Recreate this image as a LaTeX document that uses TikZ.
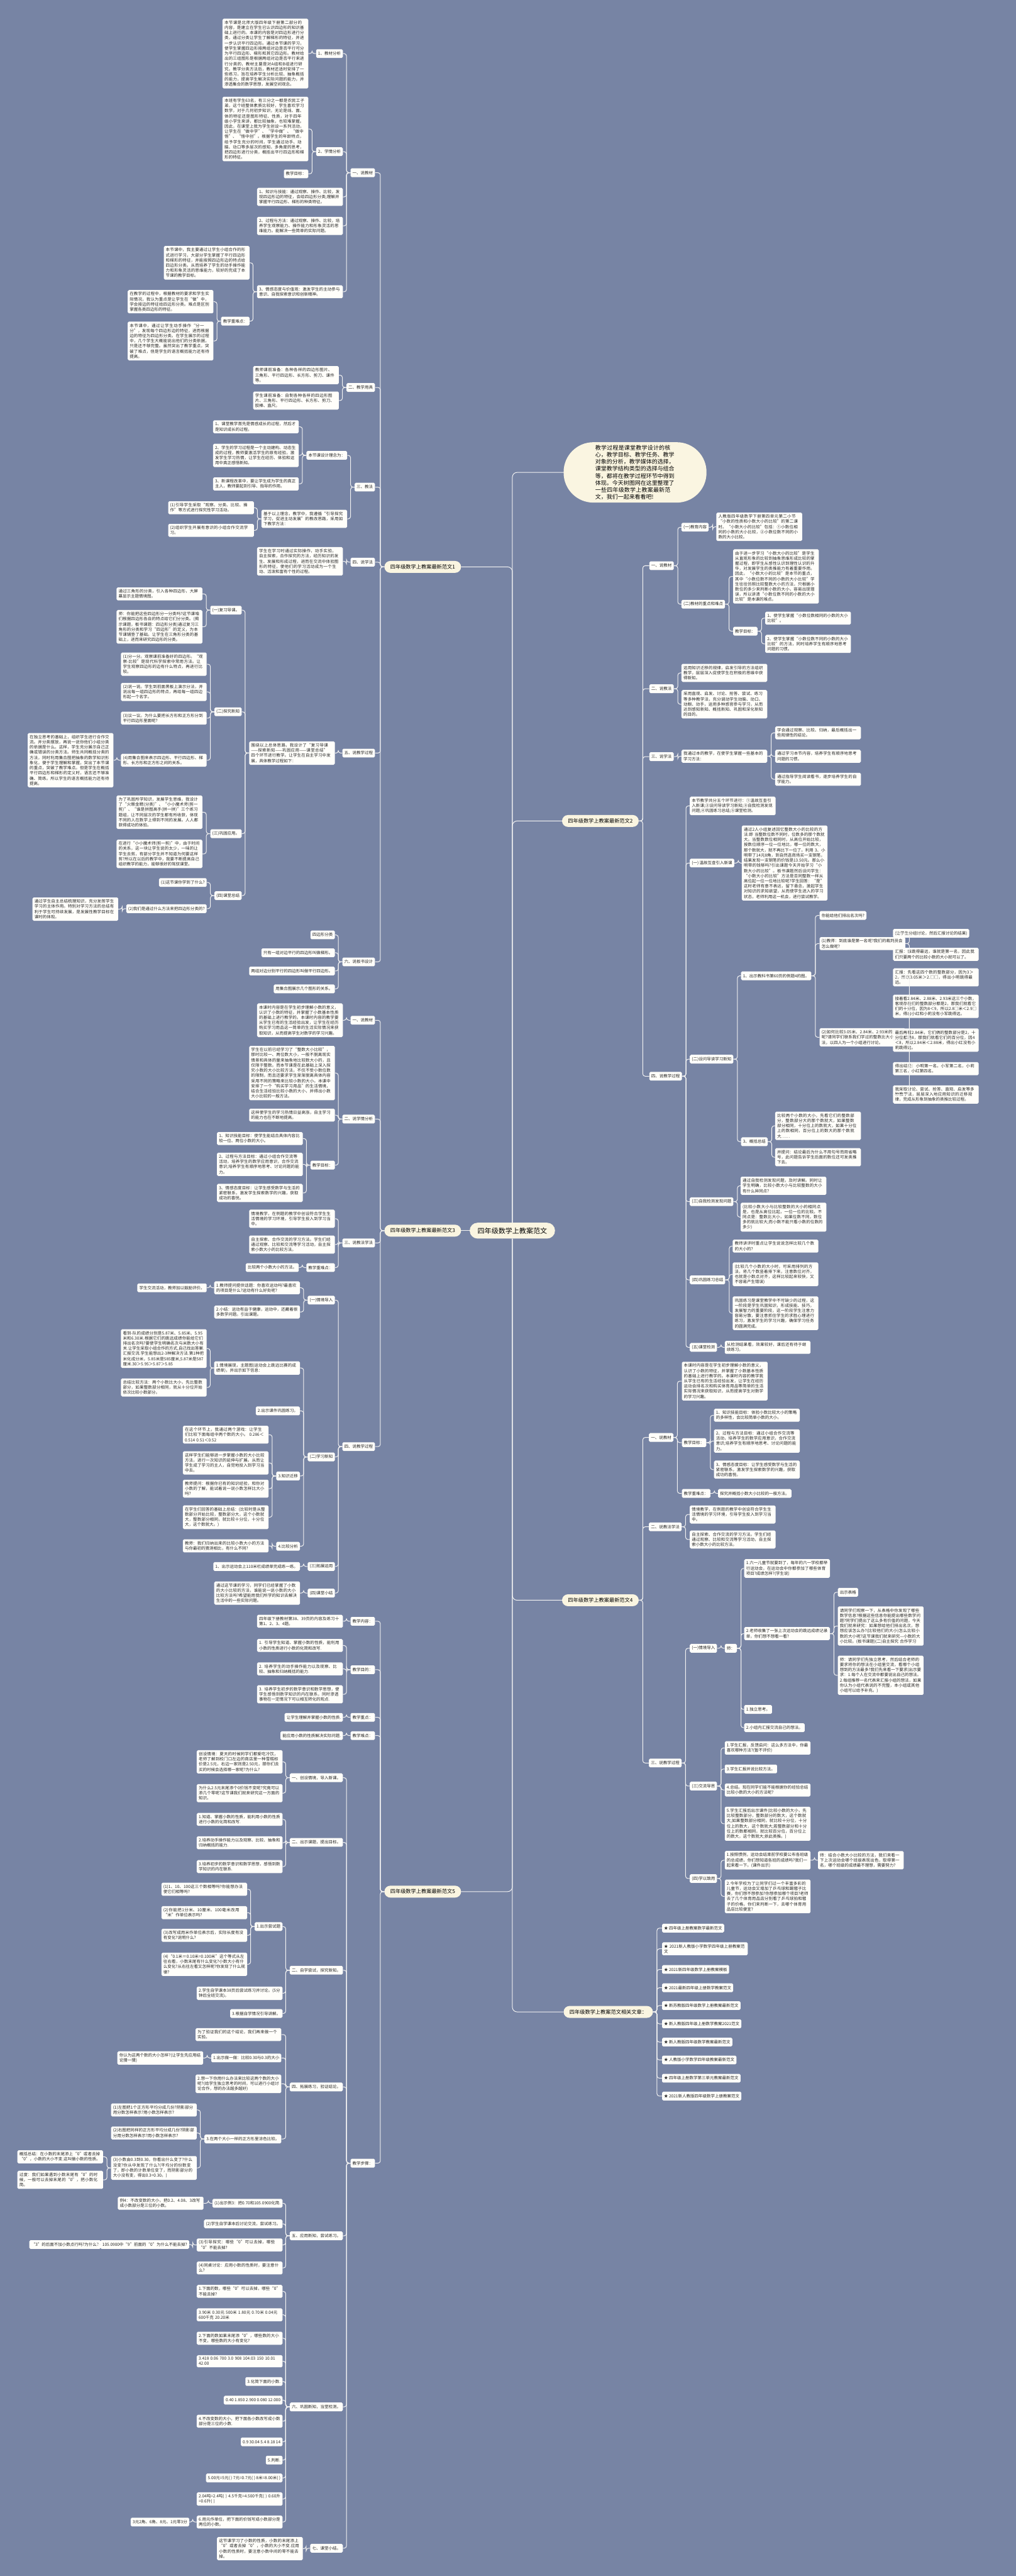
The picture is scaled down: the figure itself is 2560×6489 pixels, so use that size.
\documentclass[tikz,border=0pt]{standalone}
\usepackage{fontspec}
\setmainfont{Noto Sans CJK SC}
\XeTeXlinebreaklocale "zh"
\XeTeXlinebreakskip=0pt plus 1pt
\definecolor{mapbg}{RGB}{119,132,164}
\definecolor{leaffill}{RGB}{255,254,250}
\definecolor{topfill}{RGB}{250,245,225}
\definecolor{linkwhite}{RGB}{242,242,242}

\begin{document}
\begin{tikzpicture}[x=1pt, y=-1pt,
  lbox/.style={fill=leaffill, rounded corners=3pt, inner xsep=5pt, inner ysep=5pt, minimum height=22pt, font=\fontsize{10.3}{13}\selectfont, text=black!85},
  tbox/.style={lbox, text width=206pt, align=left},
  branch/.style={fill=topfill, rounded corners=15pt, minimum height=30pt, inner xsep=15pt, font=\fontsize{13}{15}\selectfont},
  rootnode/.style={fill=topfill, rounded corners=20pt, minimum height=40pt, inner xsep=20pt, font=\fontsize{17.5}{20}\selectfont},
  intro/.style={fill=topfill, rounded corners=75pt, text width=200pt, inner xsep=80pt, inner ysep=8pt, align=left, font=\fontsize{14.2}{17.5}\selectfont},
  link/.style={draw=linkwhite, line width=1.6pt, rounded corners=6pt}]

  \fill[mapbg] (0,0) rectangle (2560,6489);
  \useasboundingbox (0,0) rectangle (2560,6489);

  % --- root, intro and main branches ---
  \node[rootnode] (root) at (1291,3100) {四年级数学上教案范文};
  \node[intro, anchor=west] (intro) at (1420,1190) {教学过程是课堂教学设计的核心，教学目标、教学任务、教学对象的分析，教学媒体的选择，课堂教学结构类型的选择与组合等，都将在教学过程环节中得到体现。今天树图网在这里整理了一些四年级数学上教案最新范文，我们一起来看看吧!};
  \node[branch, anchor=east] (b1) at (1162,1428) {四年级数学上教案最新范文1};
  \node[branch, anchor=west] (b2) at (1416,2068) {四年级数学上教案最新范文2};
  \node[branch, anchor=east] (b3) at (1162,3100) {四年级数学上教案最新范文3};
  \node[branch, anchor=west] (b4) at (1416,4031) {四年级数学上教案最新范文4};
  \node[branch, anchor=east] (b5) at (1162,4765) {四年级数学上教案最新范文5};
  \node[branch, anchor=west] (b6) at (1420,5068) {四年级数学上教案范文相关文章：};

  % --- branch 1 (left, top) ---
  \node[lbox, anchor=east] (a1) at (945,435) {一、说教材};
  \node[lbox, anchor=east] (a2) at (945,976) {二、教学用具};
  \node[lbox, anchor=east] (a3) at (945,1227) {三、教法};
  \node[lbox, anchor=east] (a4) at (945,1416) {四、说学法};
  \node[lbox, anchor=east] (a5) at (945,1897) {五、说教学过程};
  \node[lbox, anchor=east] (a6) at (945,2423) {六、说板书设计};

  \node[lbox, anchor=east] (a11) at (864,135) {1、教材分析};
  \node[lbox, anchor=east] (a12) at (864,382) {2、学情分析};
  \node[tbox, anchor=east] (a13) at (864,496) {1、知识与技能：通过观察、操作、比较，发现四边形边的特征，会给四边形分类;理解并掌握平行四边形、梯形的种类特征。};
  \node[tbox, anchor=east] (a14) at (864,569) {2、过程与方法：通过观察、操作、比较，培养学生观察能力、操作能力和形象灵活的思维能力。能解决一些简单的实际问题。};
  \node[tbox, anchor=east] (a15) at (864,735) {3、情感态度与价值观：激发学生的主动参与意识、自我探索意识和创新精神。};
  \node[tbox, anchor=east] (a111) at (777,135) {本节课是北师大版四年级下册第二部分的内容，是建立在学生已认识四边形的知识基础上进行的。本课的内容是对四边形进行分类，通过分类让学生了解梯形的特征，并进一步认识平行四边形。通过本节课的学习，使学生掌握四边形按两组对边是否平行可分为平行四边形、梯形和其它四边形。教材给出的三组图形是根据两组对边是否平行来进行分类的，教材主要是对A组和B组进行研究。教学分类方法后，教材还适时安排了一些练习，旨在培养学生分析比较、抽象概括的能力，提高学生解决实际问题的能力，并渗透集合的数学思想，发展空间观念。};
  \node[tbox, anchor=east] (a121) at (777,325) {本班有学生63名，有三分之一都是农民工子弟，这个班整体素质比较好，学生喜欢学习数学，对于几何初步知识，无论是线、面、体的特征还是图形特征、性质，对于四年级小学生来讲，都比较抽象，也较难掌握。因此，在课堂上我为学生创设一系列活动，让学生在“做中学”、“学中做”、“做中悟”、“悟中创”。根据学生的年龄特点，给予学生充分的时间，学生通过动手、动脑、动口等多层次的感知，多角度的思考，把四边形进行分类，概括出平行四边形和梯形的特征。};
  \node[lbox, anchor=east] (a122) at (777,438) {教学目标：};
  \node[tbox, anchor=east] (a151) at (629,662) {本节课中，我主要通过让学生小组合作的形式进行学习，大部分学生掌握了平行四边形和梯形的特征，并能按照四边形边的特点给四边形分类。从而培养了学生的动手操作能力和形象灵活的思维能力，较好的完成了本节课的教学目标。};
  \node[lbox, anchor=east] (a152) at (629,809) {教学重难点：};
  \node[tbox, anchor=east] (a1521) at (538,760) {在教学的过程中，根据教材的要求和学生实际情况，我认为重点是让学生在“做”中，学会按边的特征给四边形分类。难点是区别掌握各类四边形的特征。};
  \node[tbox, anchor=east] (a1522) at (538,859) {本节课中，通过让学生动手操作“分一分”，发现每个四边形边的特征，进而根据边的特征为四边形分类。在学生展示的过程中，几个学生大概能说出他们的分类依据，只是还不够完整。虽然突出了教学重点，突破了难点，但是学生的语言概括能力还有待提高。};

  \node[tbox, anchor=east] (a21) at (854,945) {教师课前准备：各种各样的四边形图片、三角形、平行四边形、长方形、剪刀、课件等。};
  \node[tbox, anchor=east] (a22) at (854,1009) {学生课前准备：自制各种各样的四边形图片、三角形、平行四边形、长方形、剪刀、胶棒、直尺。};

  \node[lbox, anchor=east] (a31) at (875,1147) {本节课设计理念为：};
  \node[tbox, anchor=east] (a32) at (875,1307) {基于以上理念，教学中，我遵循“引导探究学习，促进主动发展”的教改思路，采用如下教学方法：};
  \node[tbox, anchor=east] (a311) at (753,1075) {1、课堂教学首先是情感成长的过程，然后才是知识成长的过程。};
  \node[tbox, anchor=east] (a312) at (753,1147) {2、学生的学习过程是一个主动建构、动态生成的过程，教师要激活学生的原有经验，激发学生学习热情，让学生在经历、体验和运用中真正感悟新知。};
  \node[tbox, anchor=east] (a313) at (753,1219) {3、新课程改革中，要让学生成为学生的真正主人，教师要起到引导、指导的作用。};
  \node[tbox, anchor=east] (a321) at (640,1279) {(1)引导学生采取“观察、分类、比较、操作”等方式进行探究性学习活动。};
  \node[tbox, anchor=east] (a322) at (640,1336) {(2)组织学生开展有意识的小组合作交流学习。};

  \node[tbox, anchor=east] (a41) at (864,1414) {学生在学习时通过实际操作，动手实验，自主探索，合作探究的方法，经历知识的发生、发展和形成过程，进而在交流中体验图形的特征，使他们的学习活动成为一个生动、活泼和富有个性的过程。};

  \node[tbox, anchor=east] (a51) at (844,1897) {围绕以上总体思路，我设计了“复习导课——探索新知——巩固应用——课堂总结”四个环节进行教学。让学生在自主学习中发展，具体教学过程如下：};
  \node[lbox, anchor=east] (a511) at (609,1537) {(一)复习导课。};
  \node[lbox, anchor=east] (a512) at (609,1793) {(二)探究新知};
  \node[lbox, anchor=east] (a513) at (609,2100) {(三)巩固应用。};
  \node[lbox, anchor=east] (a514) at (609,2256) {(四)课堂总结};
  \node[tbox, anchor=east] (a5111) at (510,1496) {通过三角形的分类，引入各种四边形，大屏幕显示主题情境图。};
  \node[tbox, anchor=east] (a5112) at (510,1579) {师：你能把这些四边形分一分类吗?这节课咱们根据四边形各自的特点给它们分分类。(揭示课题，板书课题：四边形分类)通过复习三角形的分类和学习“四边形”的定义，为本节课铺垫了基础。让学生在三角形分类的基础上，进而来研究四边形的分类。};
  \node[tbox, anchor=east] (a5121) at (521,1673) {(1)分一分。观察课前准备好的四边形。“观察-比较”是现代科学探索中常用方法。让学生观察四边形的边有什么特点，再进行比较。};
  \node[tbox, anchor=east] (a5122) at (521,1743) {(2)说一说。学生到前面黑板上演示分法，并说出每一组四边形的特点，再给每一组四边形起一个名字。};
  \node[tbox, anchor=east] (a5123) at (521,1809) {(3)议一议。为什么要把长方形和正方形分到平行四边形里面呢?};
  \node[tbox, anchor=east] (a5124) at (521,1915) {(4)用集合图来表示四边形、平行四边形、梯形、长方形和正方形之间的关系。};
  \node[tbox, anchor=east] (a51241) at (286,1915) {在独立思考的基础上，组织学生进行合作交流。并分类摆放，再说一说你他们小组分类的依据是什么。这样，学生充分展示自己正确或错误的分类方法。师生共同概括分类的方法，同时利用集合图把抽象的数学知识形象化，便于学生理解和掌握，突出了本节课的重点，突破了教学难点。但是学生在概括平行四边形和梯形的定义时，语言还不够准确、简练。所以学生的语言概括能力还有待提高。};
  \node[tbox, anchor=east] (a5131) at (510,2046) {为了巩固所学知识，发展学生思维，我设计了“火眼金睛(分类)”、“小小魔术师(剪一剪)”、“谁是拼图高手(拼一拼)”三个练习题组，让不同层次的学生都有所收获，体现不同的人在数学上得到不同的发展。人人都获得成功的体验。};
  \node[tbox, anchor=east] (a5132) at (510,2151) {在进行“小小魔术师(剪一剪)”中，由于时间的关系，这一块让学生说的太少，一味的让学生去剪，有部分学生并不知道为何要这样剪?所以在以后的教学中，我要不断提高自己组织教学的能力，能够很好的驾驭课堂。};
  \node[lbox, anchor=east] (a5141) at (521,2223) {(1)这节课你学到了什么?};
  \node[lbox, anchor=east] (a5142) at (521,2289) {(2)我们是通过什么方法来把四边形分类的?};
  \node[tbox, anchor=east] (a51421) at (298,2290) {通过学生自主总结梳理知识，充分发挥学生学习的主体作用。特别对学习方法的总结有利于学生可持续发展，是发展性教学目标在课时的体现。};

  \node[lbox, anchor=east] (a61) at (844,2355) {四边形分类};
  \node[lbox, anchor=east] (a62) at (844,2400) {只有一组对边平行的四边形叫做梯形。};
  \node[lbox, anchor=east] (a63) at (844,2446) {两组对边分别平行的四边形叫做平行四边形。};
  \node[lbox, anchor=east] (a64) at (844,2491) {用集合图展示几个图形的关系。};

  % --- branch 3 (left, middle) ---
  \node[lbox, anchor=east] (c1) at (945,2570) {一、说教材};
  \node[lbox, anchor=east] (c2) at (945,2819) {二、说学情分析};
  \node[lbox, anchor=east] (c3) at (945,3131) {三、说教法学法};
  \node[lbox, anchor=east] (c4) at (945,3644) {四、说教学过程};

  \node[tbox, anchor=east] (c11) at (864,2570) {本课时内容是在学生初步理解小数的意义，认识了小数的特征，并掌握了小数基本性质的基础上进行教学的。本课时内容的教学要从学生已有的生活经验出发，让学生在经历购买学习用品这一简单的生活实际情况来获取知识，从而提高学生对数学的学习兴趣。};
  \node[tbox, anchor=east] (c21) at (844,2703) {学生在以前已经学习了“整数大小比较”，那时比较一、两位数大小，一般不脱离现实情景和具体的量来抽象地比较数大小的，且仅限于整数。而本节课是在此基础上深入探究小数的大小比较方法，不仅不受小数位数的限制，而且还要求学生渐渐脱离具体内容采用不同的策略来比较小数的大小。本课中安排了一个“购买学习用品”的生活情境，结合生活经验比较小数的大小，并得出小数大小比较的一般方法。};
  \node[tbox, anchor=east] (c22) at (844,2809) {这样使学生的学习热情日益高涨，自主学习的能力也在不断地提高。};
  \node[lbox, anchor=east] (c23) at (844,2935) {教学目标：};
  \node[tbox, anchor=east] (c231) at (763,2868) {1、知识技能目标：使学生能结合具体内容比较一位、两位小数的大小。};
  \node[tbox, anchor=east] (c232) at (763,2933) {2、过程与方法目标：通过小组合作交流等活动，培养学生的数学应用意识，合作交流意识;培养学生有顺序地思考、讨论问题的能力。};
  \node[tbox, anchor=east] (c233) at (763,3005) {3、情感态度目标：让学生感受数学与生活的紧密联系，激发学生探索数学的兴趣，获取成功的喜悦。};
  \node[tbox, anchor=east] (c31) at (844,3070) {情境教学，在例题的教学中创设符合学生生活情境的学习环境，引导学生投入到学习当中。};
  \node[tbox, anchor=east] (c32) at (844,3135) {自主探索、合作交流的学习方法。学生们经通过观察、比较和交流等学习活动，自主探索小数大小的比较方法。};
  \node[lbox, anchor=east] (c33) at (844,3193) {教学重难点：};
  \node[lbox, anchor=east] (c331) at (753,3193) {比较两个小数大小的方法。};

  \node[lbox, anchor=east] (c41) at (844,3275) {(一)情境导入};
  \node[lbox, anchor=east] (c42) at (844,3670) {(二)学习新知};
  \node[lbox, anchor=east] (c43) at (844,3946) {(三)拓展运用};
  \node[lbox, anchor=east] (c44) at (844,4013) {(四)课堂小结};
  \node[tbox, anchor=east] (c411) at (756,3244) {1.教师提问提供话题：你喜欢运动吗?最喜欢的项目是什么?运动有什么好处呢?};
  \node[lbox, anchor=east] (c4111) at (521,3244) {学生交流活动，教师加以鼓励评价。};
  \node[tbox, anchor=east] (c412) at (756,3305) {2.小结：运动有益于健康，运动中，还藏着很多数学问题。引出课题。};
  \node[tbox, anchor=east] (c421) at (756,3446) {1.情境展现，主题图(运动会上跳远比赛的成绩单)，并出示如下信息：};
  \node[tbox, anchor=east] (c4211) at (521,3397) {看到-队的成绩分别是5.87米、5.85米、5.95米和6.30米.根据它们的跳远成绩你能给它们排出名次吗?要使学生明确名次与米数大小有关.让学生采取小组合作的方式,自己找出答案.汇报交流.学生能想出2-3种解决方法.第1种把米化成分米，5.85米是585厘米,5.87米是587厘米.30＞5.95＞5.87＞5.85};
  \node[tbox, anchor=east] (c4212) at (521,3495) {总结比较方法：两个小数比大小，先比整数部分，如果整数部分相同，就从十分位开始依次比较小数部分。};
  \node[lbox, anchor=east] (c422) at (756,3554) {2.出示课件巩固练习。};
  \node[lbox, anchor=east] (c423) at (756,3718) {3.知识迁移};
  \node[lbox, anchor=east] (c424) at (756,3895) {4.比较分析};
  \node[tbox, anchor=east] (c4231) at (677,3614) {在这个环节上，我通过两个游戏：让学生们比较下面每组中两个数的大小。 0.286＜0.514 0.51＜0.52};
  \node[tbox, anchor=east] (c4232) at (677,3685) {这样学生们能够进一步掌握小数的大小比较方法，进行一次知识的延伸与扩展。从而让学生成了学习的主人，自觉地投入到学习当中去。};
  \node[tbox, anchor=east] (c4233) at (677,3750) {教师提问：根据你已有的知识经验，和你对小数的了解，能试着说一说小数怎样比大小吗?};
  \node[tbox, anchor=east] (c4234) at (677,3822) {在学生们回答的基础上总结：(比较时是从整数部分开始比较，整数部分大，这个小数就大，整数部分相同，就比较十分位，十分位大，这个数就大。)};
  \node[tbox, anchor=east] (c4241) at (677,3894) {教师：我们归纳出来的比较小数大小的方法与你最初的猜测相比，有什么不同?};
  \node[lbox, anchor=east] (c431) at (756,3946) {1、出示运动会上110米栏成绩单完成练一练。};
  \node[tbox, anchor=east] (c441) at (756,4013) {通过这节课的学习，同学们已经掌握了小数的大小比较的方法，谁能说一说小数的大小比较方法吗?希望能用我们所学的知识去解决生活中的一些实际问题。};

  % --- branch 5 (left, bottom) ---
  \node[lbox, anchor=east] (e1) at (945,4084) {教学内容：};
  \node[lbox, anchor=east] (e2) at (945,4206) {教学目的：};
  \node[lbox, anchor=east] (e3) at (945,4326) {教学重点：};
  \node[lbox, anchor=east] (e4) at (945,4372) {教学难点：};
  \node[lbox, anchor=east] (e5) at (945,5449) {教学步骤：};

  \node[tbox, anchor=east] (e11) at (864,4084) {四年级下册教材第38、39页的内容及练习十第1、2、3、4题。};
  \node[tbox, anchor=east] (e21) at (864,4145) {1. 引导学生知道、掌握小数的性质，能利用小数的性质进行小数的化简和改写.};
  \node[tbox, anchor=east] (e22) at (864,4204) {2. 培养学生的动手操作能力以及观察、比较、抽象和归纳概括的能力.};
  \node[tbox, anchor=east] (e23) at (864,4268) {3. 培养学生初步的数学意识和数学思想，使学生感悟到数学知识的内在联系，同时渗透事物在一定情况下可以相互转化的观点.};
  \node[lbox, anchor=east] (e31) at (864,4326) {让学生理解并掌握小数的性质.};
  \node[lbox, anchor=east] (e41) at (864,4372) {能应用小数的性质解决实际问题.};

  \node[lbox, anchor=east] (e51) at (864,4478) {一、创设情境，导入新课。};
  \node[lbox, anchor=east] (e52) at (864,4641) {二、出示课题，提出目标。};
  \node[lbox, anchor=east] (e53) at (864,4963) {二、自学尝试，探究新知。};
  \node[lbox, anchor=east] (e54) at (864,5257) {四、拓展练习，验证结论。};
  \node[lbox, anchor=east] (e55) at (864,5632) {五、应用新知，尝试练习。};
  \node[lbox, anchor=east] (e56) at (864,6063) {六、巩固新知，当堂检测。};
  \node[lbox, anchor=east] (e57) at (864,6419) {七、课堂小结。};

  \node[tbox, anchor=east] (e511) at (712,4438) {创设情境：夏天的时候同学们都爱吃冷饮，老师了解到校门口左边的商店里一种雪糕标价是2.5元，右边一家则是2.50元，那你们去买的时候会选择哪一家呢?为什么?};
  \node[tbox, anchor=east] (e512) at (712,4517) {为什么2.5元末尾添个0价钱不变呢?究竟可以添几个零呢?这节课我们就来研究这一方面的知识。};
  \node[tbox, anchor=east] (e521) at (712,4583) {1.知道、掌握小数的性质，能利用小数的性质进行小数的化简和改写.};
  \node[tbox, anchor=east] (e522) at (712,4642) {2.培养动手操作能力以及观察、比较、抽象和归纳概括的能力.};
  \node[tbox, anchor=east] (e523) at (712,4702) {3.培养初步的数学意识和数学思想，感悟到数学知识的内在联系.};

  \node[lbox, anchor=east] (e531) at (712,4853) {1.出示尝试题};
  \node[tbox, anchor=east] (e532) at (712,5021) {2.学生自学课本38页后尝试练习并讨论。(5分钟后全班交流)。};
  \node[lbox, anchor=east] (e533) at (712,5072) {3.根据自学情况引导讲解。};
  \node[tbox, anchor=east] (e5311) at (623,4759) {(1)1、10、100这三个数相等吗?你能想办法使它们相等吗?};
  \node[tbox, anchor=east] (e5312) at (623,4818) {(2)你能把1分米、10厘米、100毫米改用“米”作单位表示吗?};
  \node[tbox, anchor=east] (e5313) at (623,4875) {(3)改写成用米作单位表示后，实际长度有没有变化?说明什么?};
  \node[tbox, anchor=east] (e5314) at (623,4948) {(4)“0.1米＝0.10米=0.100米”这个等式从左往右看，小数末尾有什么变化?小数大小有什么变化?从右往左看又怎样呢?你发现了什么规律?};

  \node[tbox, anchor=east] (e541) at (709,5125) {为了验证我们的这个结论，我们再来做一个实验。};
  \node[lbox, anchor=east] (e542) at (709,5184) {1.出示做一做：比较0.30与0.3的大小};
  \node[tbox, anchor=east] (e543) at (709,5249) {2.想一下你用什么办法来比较这两个数的大小呢?(给学生独立思考的时间，可以进行小组讨论合作，想的办法越多越好)};
  \node[lbox, anchor=east] (e544) at (709,5388) {3.在两个大小一样的正方形里涂色比较。};
  \node[tbox, anchor=east] (e5421) at (512,5184) {你认为这两个数的大小怎样?(让学生先应用结论猜一猜)};
  \node[tbox, anchor=east] (e5441) at (496,5315) {(1)左图把1个正方形平均分成几份?阴影部分用分数怎样表示?用小数怎样表示?};
  \node[tbox, anchor=east] (e5442) at (496,5373) {(2)右图把同样的正方形平均分成几份?阴影部分用分数怎样表示?用小数怎样表示?};
  \node[tbox, anchor=east] (e5443) at (496,5461) {(3)小数由0.3到0.30，你看出什么变了?什么没变?你从中发现了什么?(平均分的份数变了，即小数的计数单位变了，而阴影部分的大小没有变，得出0.3=0.30。)};
  \node[tbox, anchor=east] (e54431) at (260,5433) {概括总结：在小数的末尾添上“0”或者去掉“0”，小数的大小不变.这叫做小数的性质。};
  \node[tbox, anchor=east] (e54432) at (260,5491) {过度：我们如果遇到小数末尾有“0”的时候，一般可以去掉末尾的“0”，把小数化简。};

  \node[lbox, anchor=east] (e551) at (712,5550) {(1)出示例3：把0.70和105.0900化简.};
  \node[lbox, anchor=east] (e552) at (712,5602) {(2)学生自学课本后讨论交流，尝试练习。};
  \node[tbox, anchor=east] (e553) at (712,5655) {(3)引导探究：哪些“0”可以去掉，哪些“0”不能去掉?};
  \node[tbox, anchor=east] (e554) at (712,5713) {(4)同桌讨论：应用小数的性质时，要注意什么?};
  \node[tbox, anchor=east] (e5511) at (513,5550) {例4：不改变数的大小，把0.2、4.08、3改写成小数部分是三位的小数。};
  \node[lbox, anchor=east] (e5531) at (477,5654) {105.0900中“9”前面的“0”为什么不能去掉?};
  \node[lbox, anchor=east] (e55311) at (254,5654) {“3”的后面不加小数点行吗?为什么?};

  \node[tbox, anchor=east] (e56a) at (712,5772) {1.下面的数，哪些“0”可以去掉，哪些“0”不能去掉?};
  \node[tbox, anchor=east] (e56b) at (712,5831) {3.90米 0.30元 500米 1.80元 0.70米 0.04元 600千克 20.20米};
  \node[tbox, anchor=east] (e56c) at (712,5890) {2.下面的数如果末尾添“0”，哪些数的大小不变，哪些数的大小有变化?};
  \node[tbox, anchor=east] (e56d) at (712,5948) {3.418 0.06 700 3.0 908 104.03 150 10.01 42.00};
  \node[lbox, anchor=east] (e56e) at (712,5999) {3.化简下面的小数.};
  \node[lbox, anchor=east] (e56f) at (712,6046) {0.40 1.850 2.900 0.080 12.000};
  \node[tbox, anchor=east] (e56g) at (712,6099) {4.不改变数的大小，把下面各小数改写成小数部分是三位的小数.};
  \node[lbox, anchor=east] (e56h) at (712,6151) {0.9 30.04 5.4 8.18 14};
  \node[lbox, anchor=east] (e56i) at (712,6197) {5.判断.};
  \node[lbox, anchor=east] (e56j) at (712,6242) {5.00元=5元( ) 7元=0.7元( ) 8米=8.00米( )};
  \node[tbox, anchor=east] (e56k) at (712,6295) {2.04吨=2.4吨( ) 4.5千克=4.500千克( ) 0.60升=0.6升( )};
  \node[tbox, anchor=east] (e56l) at (712,6353) {6.用元作单位，把下面的价钱写成小数部分是两位的小数。};
  \node[lbox, anchor=east] (e56m) at (477,6353) {3元2角、6角、8元、1元零3分};
  \node[tbox, anchor=east] (e571) at (763,6420) {这节课学习了小数的性质，小数的末尾添上“0”或者去掉“0”，小数的大小不变.应用小数的性质时，要注意小数中间的零不能去掉。};

  % --- branch 2 (right, top) ---
  \node[lbox, anchor=west] (d1) at (1636,1425) {一、说教材};
  \node[lbox, anchor=west] (d2) at (1636,1735) {二、说教法};
  \node[lbox, anchor=west] (d3) at (1636,1906) {三、说学法};
  \node[lbox, anchor=west] (d4) at (1636,2711) {四、说教学过程};

  \node[lbox, anchor=west] (d11) at (1717,1328) {(一)教育内容};
  \node[lbox, anchor=west] (d12) at (1717,1522) {(二)教材的重点和难点};
  \node[tbox, anchor=west] (d111) at (1805,1327) {人教版四年级数学下册第四单元第二小节“小数的性质和小数大小的比较”的第二课时。“小数大小的比较”包括：①小数位相同的小数的大小比较，②小数位数不同的小数的大小比较。};
  \node[tbox, anchor=west] (d121) at (1847,1452) {由于进一步学习“小数大小的比较”是学生从直观形象的比较到抽象思维形成比较的掌握过程，即学生从感性认识到理性认识的升华，对发展学生的类推能力有着重要作用。因此，“小数大小的比较”是本节的重点，其中“小数位数不同的小数的大小比较”学生往往仿照比较整数大小的方法，只根据小数位的多少来判断小数的大小，容易出现错误，所以讲清“小数位数不同的小数的大小比较”是本课的难点。};
  \node[lbox, anchor=west] (d122) at (1847,1590) {教学目标：};
  \node[tbox, anchor=west] (d1221) at (1928,1557) {1、使学生掌握“小数位数相同的小数的大小比较”。};
  \node[tbox, anchor=west] (d1222) at (1928,1622) {2、使学生掌握“小数位数不同的小数的大小比较”的方法，同时培养学生有顺序地思考问题的习惯。};
  \node[tbox, anchor=west] (d21) at (1717,1695) {运用知识迁移的规律，启发引导的方法组织教学，层层深入促使学生在积极的思维中获得新知。};
  \node[tbox, anchor=west] (d22) at (1717,1774) {采用直观、启发、讨论、抢答、尝试、练习等多种教学法，充分调动学生动脑、动口、动眼、动手，运用多种感官参与学习，从而达到感知新知、概括新知、巩固和深化新知的目的。};
  \node[tbox, anchor=west] (d31) at (1717,1905) {我通过本的教学，在使学生掌握一些基本的学习方法：};
  \node[tbox, anchor=west] (d311) at (1953,1846) {学会通过观察、比较、归纳，最后概括出一些规律性的结论。};
  \node[tbox, anchor=west] (d312) at (1953,1905) {通过学习本节内容，培养学生有顺序地思考问题的习惯。};
  \node[tbox, anchor=west] (d313) at (1953,1963) {通过指导学生阅读看书，逐步培养学生的自学能力。};

  \node[tbox, anchor=west] (d41) at (1738,2030) {本节教学共分五个环节进行：①温故互查引入新课;②设问导读学习新知;③自我检测发现问题;④巩固练习总结;⑤课堂检测。};
  \node[lbox, anchor=west] (d42) at (1738,2174) {(一) 温故互查引入新课};
  \node[lbox, anchor=west] (d43) at (1738,2668) {(二)设问导读学习新知};
  \node[lbox, anchor=west] (d44) at (1738,3027) {(三)自我检测发现问题};
  \node[lbox, anchor=west] (d45) at (1738,3224) {(四)巩固练习总结};
  \node[lbox, anchor=west] (d46) at (1738,3394) {(五)课堂检测};
  \node[tbox, anchor=west] (d421) at (1869,2174) {通过2人小组复述回忆整数大小的比较的方法:即 当整数位数不同时，位数多的那个数就大。当整数数位相同时，从高位开始比较，按数位顺序一位一位地比，哪一位的数大，那个数就大，就不再比下一位了。利用 3、小明带了14元8角，到自然选商场买一支钢笔，结果发现一支钢笔的价钱是13.50元。那么小明带的钱够吗?引出课题今天开始学习“小数大小的比较”。板书课题然后设问学生：“小数大小的比较”方法是否同整数一样从高位起一位一位地比较呢?学生回答：“是”这时老师有意不表达，留下悬念，激起学生对知识的求知欲望，从而使学生进入的学习状态，老师利用这一机会，进行尝试教学。};
  \node[lbox, anchor=west] (d431) at (1867,2458) {1、出示教科书第60页的例题4的图。};
  \node[lbox, anchor=west] (d432) at (1867,2876) {3、概括总结};
  \node[lbox, anchor=west] (d4311) at (2065,2306) {你能给他们排出名次吗?};
  \node[tbox, anchor=west] (d4312) at (2065,2377) {(1)教师：到底谁是第一名呢?我们的裁判员会怎么做呢?};
  \node[tbox, anchor=west] (d4313) at (2065,2613) {(2)如何比较3.05米、2.84米、2.93米的大小呢?请同学们联系我们学过的整数比大小的方法，以四人为一个小组进行讨论。};
  \node[lbox, anchor=west] (d43121) at (2250,2351) {(让学生分组讨论，然后汇报讨论的结果)};
  \node[tbox, anchor=west] (d43122) at (2250,2404) {汇报：谁跳得最远，谁就是第一名，因此我们只要两个的比较小数的大小就可以了。};
  \node[tbox, anchor=west] (d4313a) at (2250,2462) {汇报：先看这四个数的整数部分，因为3＞2，所以3.05米＞2.□□，得出小明跳得最远。};
  \node[tbox, anchor=west] (d4313b) at (2250,2535) {接着看2.84米、2.88米、2.93米这三个小数，客观存在们的整数部分都是2，那我们就看它们的十分位，因为8＜9，所以2.8□米＜2.9□米，得出小红和小莉没有小军跳得远。};
  \node[tbox, anchor=west] (d4313c) at (2250,2620) {最后再看2.84米，它们俩的整数部分是2，十分位都是8，那我们就看它们的百分位，因4＜8，所以2.84米＜2.88米，得出小红没有小莉跳得远。};
  \node[tbox, anchor=west] (d4313d) at (2250,2692) {得出结论：小明第一名。小军第二名，小莉第三名，小红第四名。};
  \node[tbox, anchor=west] (d4313e) at (2250,2757) {我采取讨论、尝试、抢答、直观、启发等多种教学法，层层深入地应用知识的迁移规律，完成从形象到抽象的类推比较过程。};
  \node[tbox, anchor=west] (d4321) at (1953,2836) {比较两个小数的大小，先看它们的整数部分，整数部分大的那个数就大，如果整数部分相同，十分位上的数就大，如果十分位上的数相同，百分位上的数大的那个数就大……};
  \node[tbox, anchor=west] (d4322) at (1953,2915) {并提问：结论最后为什么不用句号而用省略号，此问题告诉学生后面的数位还可发类推下去。};
  \node[tbox, anchor=west] (d441) at (1866,2987) {通过自我检测发现问题，及时讲解。同时让学生明确，比较小数大小与比较整数的大小有什么异同点?};
  \node[tbox, anchor=west] (d442) at (1866,3066) {(比较小数大小与比较整数的大小的相同点是，也是从高位比起，一位一位的比较。不同点是：整数比大小，如果位数不同，数位多的就比较大;而小数不能只看小数的位数的多少)};
  \node[tbox, anchor=west] (d451) at (1846,3139) {教师讲评时重点让学生说说怎样比较几个数的大小的?};
  \node[tbox, anchor=west] (d452) at (1846,3210) {(比较几个小数的大小时，可采用排列的方法，将几个数竖着排下来，注意数位对齐，也就是小数点对齐，这样比较起来较快，又不容易产生错误)};
  \node[tbox, anchor=west] (d453) at (1846,3308) {巩固练习是课堂教学中不可缺少的过程，这一阶段是学生巩固知识，形成技能、技巧，发展智力的重要阶段，这一阶段学生注意力容易分散，要注意抓住学生的求胜心理进行练习，激发学生的学习兴趣，确保学习任务的圆满完成。};
  \node[tbox, anchor=west] (d461) at (1826,3394) {从检测结果看，效果较好，课后还有待于继续练习。};

  % --- branch 4 (right, middle) ---
  \node[lbox, anchor=west] (f1) at (1635,3621) {一、说教材};
  \node[lbox, anchor=west] (f2) at (1635,3846) {二、说教法学法};
  \node[lbox, anchor=west] (f3) at (1635,4441) {三、说教学过程};

  \node[tbox, anchor=west] (f11) at (1718,3479) {本课时内容是在学生初步理解小数的意义，认识了小数的特征，并掌握了小数基本性质的基础上进行教学的。本课时内容的教学我从学生已有的生活经验出发，让学生在经历运动会排名次和购买体育用品等简单的生活实际情况来获取知识，从而提高学生对数学的学习兴趣。};
  \node[lbox, anchor=west] (f12) at (1718,3634) {教学目标：};
  \node[lbox, anchor=west] (f13) at (1718,3762) {教学重难点：};
  \node[tbox, anchor=west] (f121) at (1799,3565) {1、知识技能目标：体验小数比较大小的策略的多样性，会比较简单小数的大小。};
  \node[tbox, anchor=west] (f122) at (1799,3630) {2、过程与方法目标：通过小组合作交流等活动，培养学生的数学应用意识，合作交流意识;培养学生有顺序地思考、讨论问题的能力。};
  \node[tbox, anchor=west] (f123) at (1799,3702) {3、情感态度目标：让学生感受数学与生活的紧密联系，激发学生探索数学的兴趣，获取成功的喜悦。};
  \node[lbox, anchor=west] (f131) at (1809,3762) {探究并概括小数大小比较的一般方法。};
  \node[tbox, anchor=west] (f21) at (1738,3815) {情境教学，在例题的教学中创设符合学生生活情境的学习环境，引导学生投入到学习当中。};
  \node[tbox, anchor=west] (f22) at (1738,3878) {自主探索、合作交流的学习方法。学生们经通过观察、比较和交流等学习活动，自主探索小数大小的比较方法。};

  \node[lbox, anchor=west] (f31) at (1738,4152) {(一)情境导入};
  \node[lbox, anchor=west] (f32) at (1738,4499) {(三)交流导思};
  \node[lbox, anchor=west] (f33) at (1738,4732) {(四)学以致用};
  \node[lbox, anchor=west] (f311) at (1826,4152) {师：};
  \node[tbox, anchor=west] (f3111) at (1875,3951) {1.六一儿童节就要到了，每年的六一学校都举行运动会，在运动会中你都参加了哪些体育项目?成绩怎样?(学生说)};
  \node[tbox, anchor=west] (f3112) at (1875,4115) {2.老师收集了一张上次运动会的跳远成绩记录单，你们想不想看一看?};
  \node[lbox, anchor=west] (f3113) at (1875,4306) {1.独立思考。};
  \node[lbox, anchor=west] (f3114) at (1875,4352) {2.小组内汇报交流自己的想法。};
  \node[lbox, anchor=west] (f31121) at (2111,4011) {出示表格};
  \node[tbox, anchor=west] (f31122) at (2111,4096) {请同学们观察一下，从表格中你发现了哪些数学信息?根据这些信息你能提出哪些数学问题?同学们提出了这么多有价值的问题，今天我们就来研究：如果想给他们排出名次，想想应该怎么办?(比较他们的大小)怎么比较小数的大小呢?这节课我们就来研究—小数的大小比较。(板书课题)(二)自主探究 合作学习};
  \node[tbox, anchor=west] (f31123) at (2111,4220) {师：请同学们先独立思考，然后结合老师的要求将你的想法在小组里交流，看哪个小组想到的方法最多?我们先来看一下要求(出示要求：1.每个人在交流中都要说出自己的想法。2.每组推荐一名代表来汇报小组的想法，如果你认为小组代表说的不完整，本小组或其他小组可以给予补充。)};
  \node[tbox, anchor=west] (f321) at (1826,4403) {1.学生汇报，反馈启问：这么多方法中，你最喜欢哪种方法?(暂不评价)};
  \node[lbox, anchor=west] (f322) at (1826,4456) {3.学生汇报并说比较方法。};
  \node[tbox, anchor=west] (f323) at (1826,4509) {4.总结。现在同学们能不能根据你的经验总结比较小数的大小的方法呢?};
  \node[tbox, anchor=west] (f324) at (1826,4594) {5.学生汇报后出示课件(比较小数的大小，先比较整数部分，整数部分的数大，这个数就大;如果整数部分相同，就比较十分位，十分位上的数大，这个数就大;若整数部分和十分位上的数都相同，就比较百分位，百分位上的数大，这个数就大;依此类推。)};
  \node[tbox, anchor=west] (f331) at (1826,4686) {1.按照惯例，运动会结束前学校要公布各班级的总成绩，你们想知道各班的成绩吗?我们一起来看一下。(课件出示)};
  \node[tbox, anchor=west] (f3311) at (2061,4686) {师：结合小数大小比较的方法，我们来看一下上次运动会哪个班级表现出色，取得第一名，哪个班级的成绩最不理想，需要努力?};
  \node[tbox, anchor=west] (f332) at (1826,4777) {2.今年学校为了让同学们过一个丰富多彩的儿童节，运动会又增加了乒乓球和踢毽子比赛，你们想不想参加?你想参加哪个项目?老师去了几个体育用品店分别看了乒乓球拍和毽子的价格，你们来判断一下，去哪个体育用品店比较便宜?};

  % --- branch 6: related articles ---
  \node[lbox, anchor=west] (g1) at (1668,4857) {★ 四年级上册教案数学最新范文};
  \node[tbox, anchor=west] (g2) at (1668,4909) {★ 2021新人教版小学数学四年级上册教案范文};
  \node[lbox, anchor=west] (g3) at (1668,4961) {★ 2021新四年级数学上册教案模板};
  \node[lbox, anchor=west] (g4) at (1668,5007) {★ 2021最新四年级上册数学教案范文};
  \node[lbox, anchor=west] (g5) at (1668,5052) {★ 新苏教版四年级数学上册教案最新范文};
  \node[lbox, anchor=west] (g6) at (1668,5098) {★ 新人教版四年级上册数学教案2021范文};
  \node[lbox, anchor=west] (g7) at (1668,5144) {★ 新人教版四年级数学教案最新范文};
  \node[lbox, anchor=west] (g8) at (1668,5189) {★ 人教版小学数学四年级教案最新范文};
  \node[lbox, anchor=west] (g9) at (1668,5235) {★ 四年级上册数学第三单元教案最新范文};
  \node[lbox, anchor=west] (g10) at (1668,5280) {★ 2021新人教版四年级数学上册教案范文};

  % === connectors: root trunk ===
  \draw[link, rounded corners=12pt] (root.north) |- (intro.west);
  \draw[link, rounded corners=12pt] (root.north) |- (b1.east);
  \draw[link, rounded corners=12pt] (root.north) |- (b2.west);
  \draw[link] (root.west) -- (b3.east);
  \draw[link, rounded corners=12pt] (root.south) |- (b4.west);
  \draw[link, rounded corners=12pt] (root.south) |- (b5.east);
  \draw[link, rounded corners=12pt] (root.south) |- (b6.west);

  % === connectors growing to the left ===
  \foreach \p/\cs in {b1/{a1,a2,a3,a4,a5,a6}, a1/{a11,a12,a13,a14,a15}, a11/{a111}, a12/{a121,a122},
      a15/{a151,a152}, a152/{a1521,a1522}, a2/{a21,a22}, a3/{a31,a32}, a31/{a311,a312,a313},
      a32/{a321,a322}, a4/{a41}, a5/{a51}, a51/{a511,a512,a513,a514}, a511/{a5111,a5112},
      a512/{a5121,a5122,a5123,a5124}, a5124/{a51241}, a513/{a5131,a5132}, a514/{a5141,a5142},
      a5142/{a51421}, a6/{a61,a62,a63,a64},
      b3/{c1,c2,c3,c4}, c1/{c11}, c2/{c21,c22,c23}, c23/{c231,c232,c233}, c3/{c31,c32,c33},
      c33/{c331}, c4/{c41,c42,c43,c44}, c41/{c411,c412}, c411/{c4111}, c42/{c421,c422,c423,c424},
      c421/{c4211,c4212}, c423/{c4231,c4232,c4233,c4234}, c424/{c4241}, c43/{c431}, c44/{c441},
      b5/{e1,e2,e3,e4,e5}, e1/{e11}, e2/{e21,e22,e23}, e3/{e31}, e4/{e41},
      e5/{e51,e52,e53,e54,e55,e56,e57}, e51/{e511,e512}, e52/{e521,e522,e523},
      e53/{e531,e532,e533}, e531/{e5311,e5312,e5313,e5314}, e54/{e541,e542,e543,e544},
      e542/{e5421}, e544/{e5441,e5442,e5443}, e5443/{e54431,e54432}, e55/{e551,e552,e553,e554},
      e551/{e5511}, e553/{e5531}, e5531/{e55311},
      e56/{e56a,e56b,e56c,e56d,e56e,e56f,e56g,e56h,e56i,e56j,e56k,e56l}, e56l/{e56m}, e57/{e571}}
    \foreach \c in \cs {\draw[link] (\p.west) -- ++(-10,0) |- (\c.east);}

  % === connectors growing to the right ===
  \foreach \p/\cs in {b2/{d1,d2,d3,d4}, d1/{d11,d12}, d11/{d111}, d12/{d121,d122}, d122/{d1221,d1222},
      d2/{d21,d22}, d3/{d31}, d31/{d311,d312,d313}, d4/{d41,d42,d43,d44,d45,d46}, d42/{d421},
      d43/{d431,d432}, d431/{d4311,d4312,d4313}, d4312/{d43121,d43122},
      d4313/{d4313a,d4313b,d4313c,d4313d,d4313e}, d432/{d4321,d4322}, d44/{d441,d442},
      d45/{d451,d452,d453}, d46/{d461},
      b4/{f1,f2,f3}, f1/{f11,f12,f13}, f12/{f121,f122,f123}, f13/{f131}, f2/{f21,f22},
      f3/{f31,f32,f33}, f31/{f311}, f311/{f3111,f3112,f3113,f3114}, f3112/{f31121,f31122,f31123},
      f32/{f321,f322,f323,f324}, f33/{f331,f332}, f331/{f3311},
      b6/{g1,g2,g3,g4,g5,g6,g7,g8,g9,g10}}
    \foreach \c in \cs {\draw[link] (\p.east) -- ++(10,0) |- (\c.west);}
\end{tikzpicture}
\end{document}
